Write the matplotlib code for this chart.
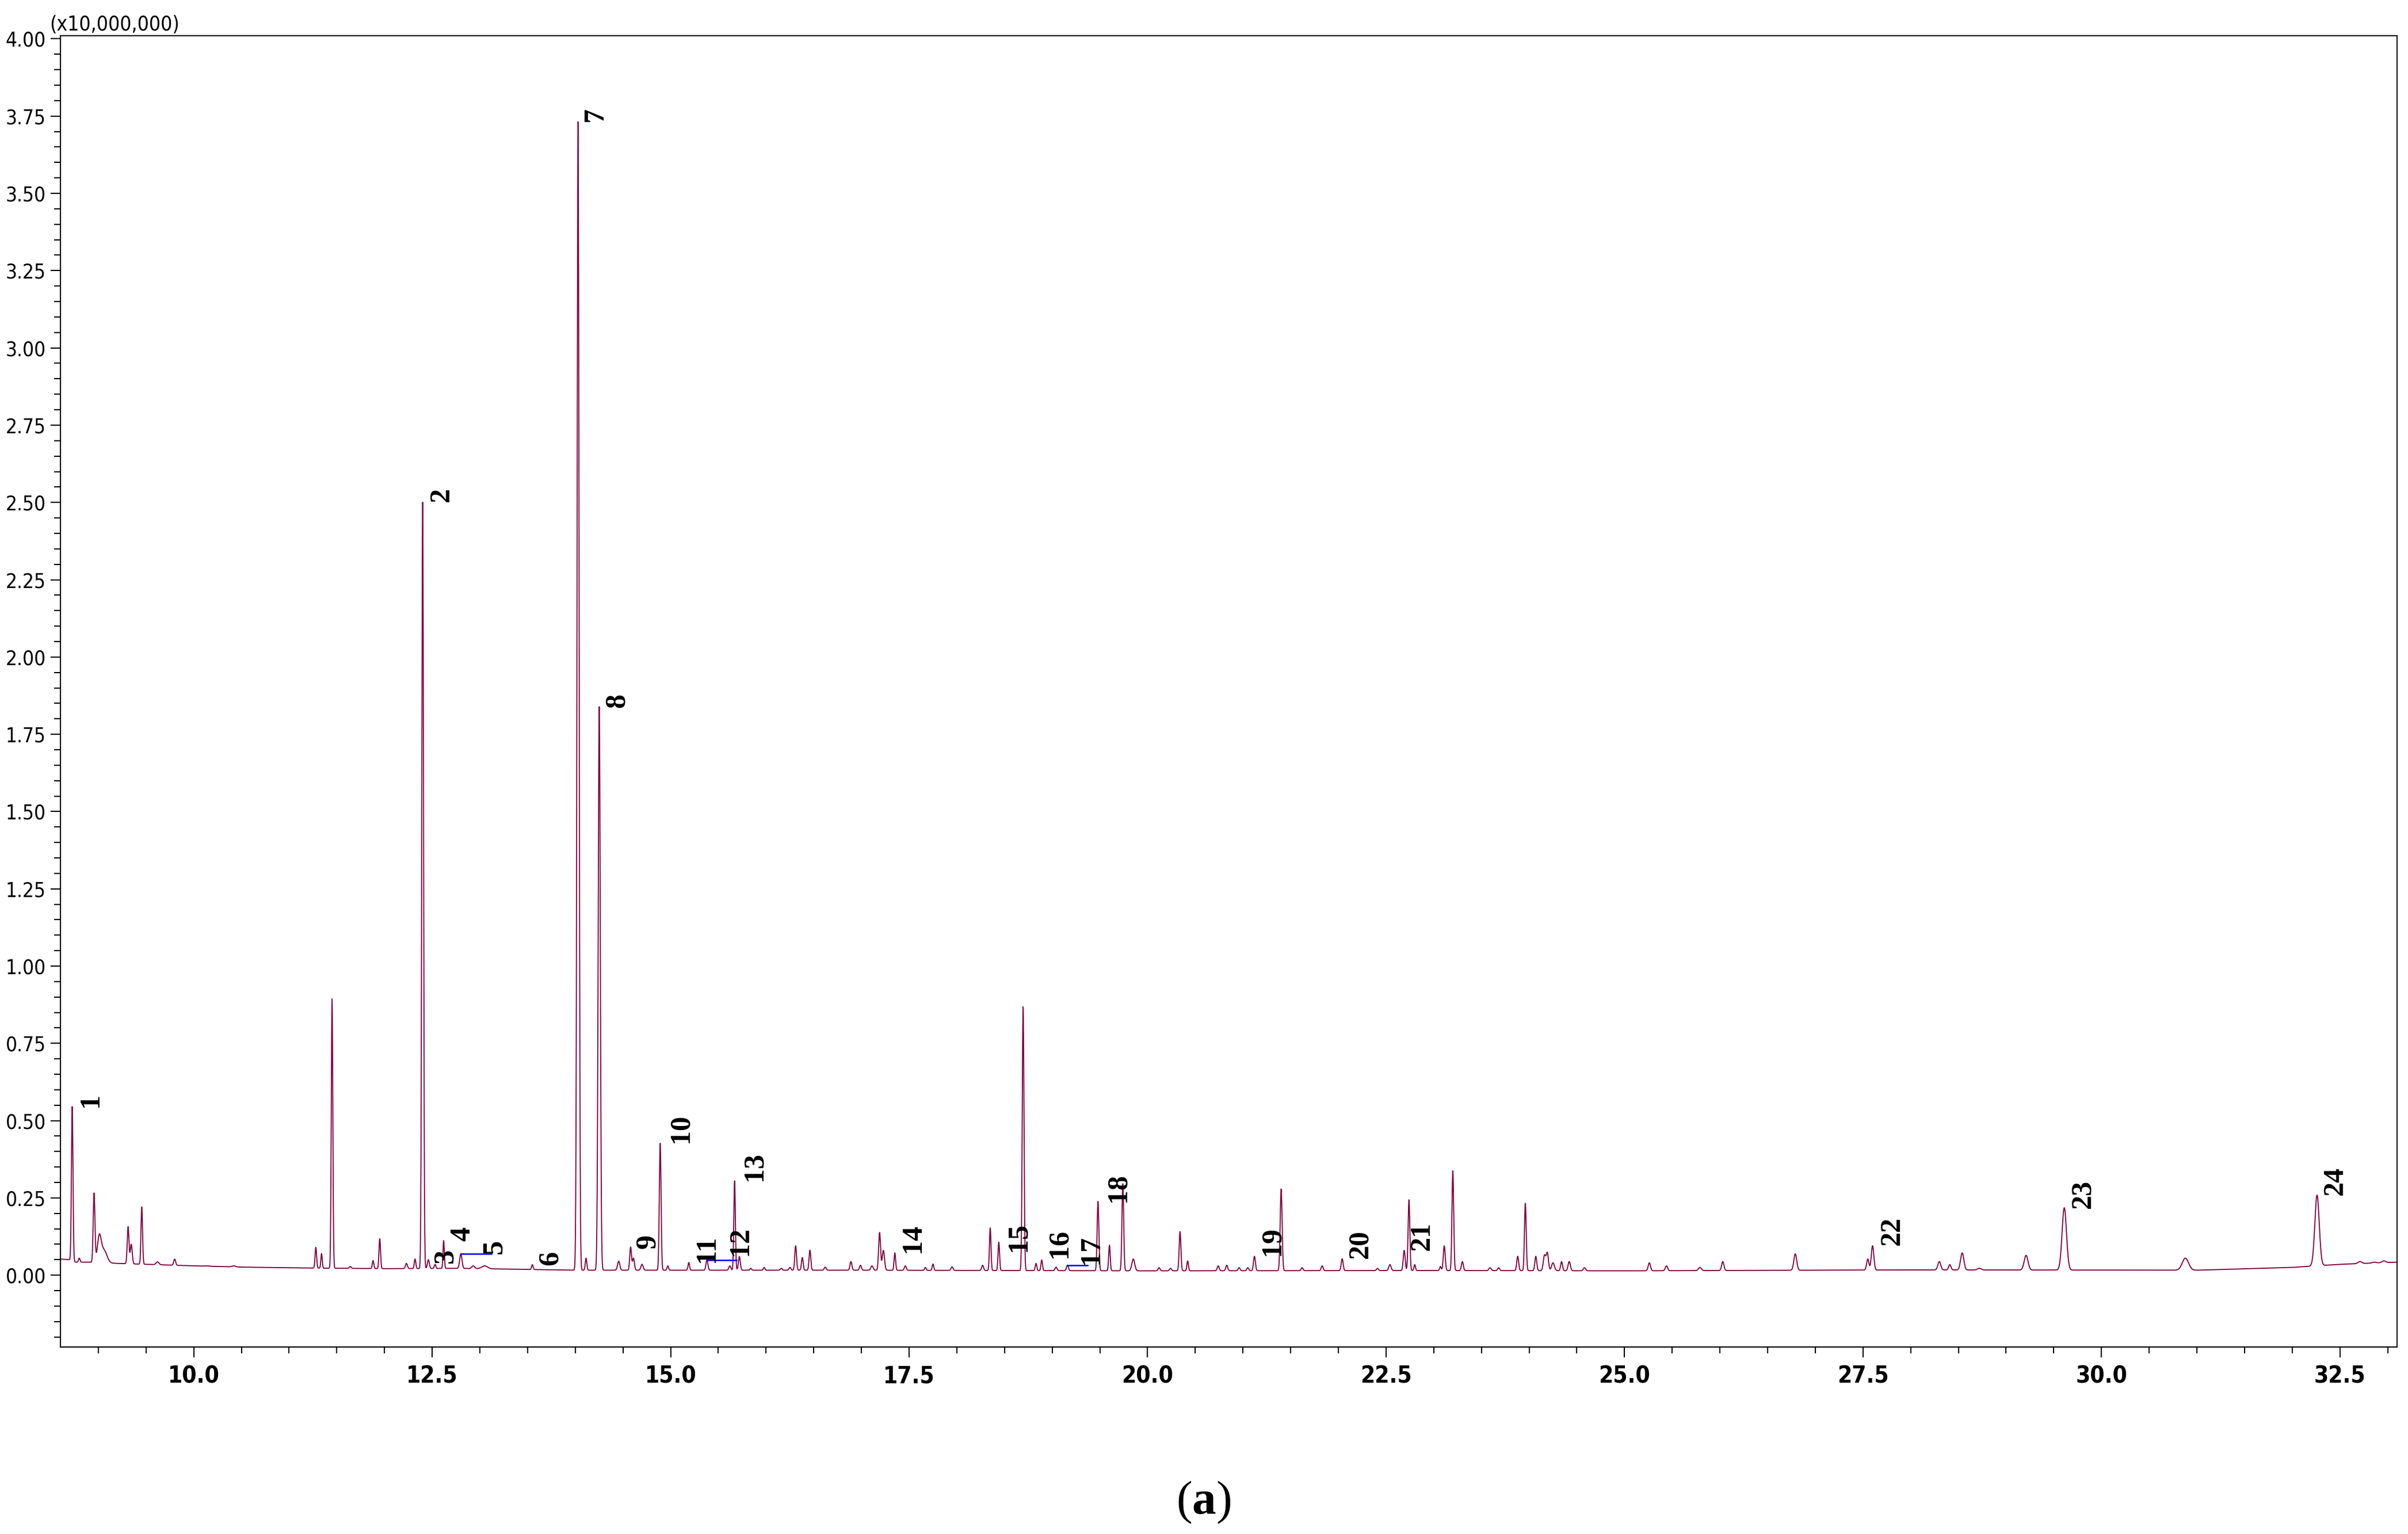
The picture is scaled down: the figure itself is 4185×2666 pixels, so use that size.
import numpy as np
import matplotlib
matplotlib.use('Agg')
import matplotlib.pyplot as plt
from matplotlib import font_manager

# Peak table: retention time (min), apex (x10,000,000), width (sigma, min)
peak_time = [8.726, 8.80, 8.955, 9.01, 9.06, 9.312, 9.345, 9.455, 9.62, 9.80,
             10.14, 10.42, 11.28, 11.34, 11.45, 11.64, 11.88, 11.95, 12.23, 12.32,
             12.40, 12.46, 12.53, 12.62, 12.80, 12.93, 13.05, 13.55, 14.029, 14.113,
             14.251, 14.455, 14.58, 14.61, 14.70, 14.89, 14.97, 15.19, 15.38, 15.62,
             15.67, 15.72, 15.84, 15.98, 16.16, 16.25, 16.31, 16.38, 16.46, 16.62,
             16.89, 16.99, 17.11, 17.19, 17.23, 17.35, 17.46, 17.67, 17.75, 17.95,
             18.27, 18.35, 18.44, 18.695, 18.83, 18.89, 19.04, 19.16, 19.48, 19.60,
             19.74, 19.85, 20.12, 20.24, 20.34, 20.42, 20.74, 20.83, 20.96, 21.05,
             21.12, 21.40, 21.62, 21.83, 22.04, 22.41, 22.54, 22.69, 22.74, 22.80,
             23.07, 23.11, 23.20, 23.30, 23.59, 23.68, 23.88, 23.96, 24.07, 24.16,
             24.19, 24.25, 24.34, 24.42, 24.58, 25.26, 25.44, 25.79, 26.03, 26.79,
             27.55, 27.60, 28.30, 28.41, 28.54, 28.72, 29.21, 29.61, 30.88, 32.26,
             32.71, 32.86, 32.96]
peak_apex = [0.546, 0.055, 0.264, 0.123, 0.080, 0.157, 0.100, 0.221, 0.043, 0.052,
             0.030, 0.030, 0.090, 0.070, 0.894, 0.028, 0.047, 0.118, 0.038, 0.052,
             2.509, 0.050, 0.035, 0.112, 0.069, 0.030, 0.030, 0.034, 3.734, 0.055,
             1.840, 0.045, 0.091, 0.055, 0.035, 0.428, 0.030, 0.041, 0.049, 0.030,
             0.305, 0.060, 0.022, 0.025, 0.022, 0.025, 0.095, 0.057, 0.081, 0.026,
             0.044, 0.032, 0.030, 0.138, 0.080, 0.072, 0.030, 0.025, 0.036, 0.027,
             0.032, 0.153, 0.107, 0.869, 0.038, 0.049, 0.026, 0.032, 0.239, 0.097,
             0.296, 0.052, 0.024, 0.022, 0.141, 0.046, 0.030, 0.032, 0.024, 0.024,
             0.061, 0.279, 0.024, 0.030, 0.053, 0.022, 0.034, 0.080, 0.244, 0.034,
             0.028, 0.095, 0.338, 0.044, 0.024, 0.024, 0.061, 0.233, 0.061, 0.063,
             0.072, 0.040, 0.044, 0.044, 0.024, 0.040, 0.030, 0.025, 0.044, 0.069,
             0.052, 0.095, 0.044, 0.034, 0.072, 0.022, 0.064, 0.218, 0.055, 0.259,
             0.044, 0.042, 0.046]
peak_sigma = [0.008, 0.008, 0.009, 0.020, 0.030, 0.009, 0.010, 0.008, 0.015, 0.010,
              0.020, 0.020, 0.008, 0.007, 0.008, 0.010, 0.008, 0.008, 0.010, 0.008,
              0.009, 0.010, 0.008, 0.007, 0.012, 0.015, 0.030, 0.008, 0.0105, 0.008,
              0.011, 0.012, 0.009, 0.010, 0.012, 0.009, 0.008, 0.008, 0.010, 0.010,
              0.008, 0.010, 0.008, 0.008, 0.010, 0.010, 0.009, 0.009, 0.009, 0.010,
              0.010, 0.010, 0.012, 0.010, 0.012, 0.008, 0.010, 0.008, 0.008, 0.010,
              0.010, 0.008, 0.008, 0.009, 0.008, 0.008, 0.010, 0.010, 0.009, 0.008,
              0.009, 0.015, 0.010, 0.010, 0.009, 0.008, 0.010, 0.010, 0.010, 0.010,
              0.010, 0.010, 0.010, 0.010, 0.010, 0.010, 0.012, 0.010, 0.009, 0.008,
              0.008, 0.010, 0.009, 0.010, 0.012, 0.010, 0.010, 0.009, 0.010, 0.012,
              0.012, 0.015, 0.010, 0.012, 0.012, 0.012, 0.012, 0.015, 0.012, 0.015,
              0.012, 0.013, 0.015, 0.012, 0.017, 0.020, 0.020, 0.023, 0.033, 0.023,
              0.020, 0.020, 0.020]

# baseline drift of the trace
base_time = [8.6, 8.70, 8.76, 8.9, 9.2, 9.5, 9.9, 10.5, 11.2, 12.0, 12.8, 13.2,
             14.0, 15.0, 17.0, 20.0, 23.0, 25.0, 28.0, 31.0, 32.0, 32.5, 33.1]
base_level = [0.052, 0.050, 0.042, 0.042, 0.038, 0.035, 0.031, 0.026, 0.023, 0.021,
              0.022, 0.020, 0.016, 0.016, 0.016, 0.014, 0.015, 0.014, 0.017, 0.016,
              0.025, 0.035, 0.042]

# numbered peak annotations (label, time, height of label centre)
label_text = ['1', '2', '3', '4', '5', '6', '7', '8', '9', '10', '11', '12',
              '13', '14', '15', '16', '17', '18', '19', '20', '21', '22', '23', '24']
label_time = [8.92, 12.60, 12.64, 12.82, 13.15, 13.74, 14.21, 14.44, 14.76, 15.11,
              15.38, 15.73, 15.88, 17.54, 18.65, 19.08, 19.41, 19.69, 21.31, 22.23,
              22.88, 27.81, 29.81, 32.45]
label_y = [0.567, 2.525, 0.062, 0.133, 0.093, 0.056, 3.754, 1.859, 0.110, 0.474,
           0.086, 0.110, 0.352, 0.120, 0.124, 0.103, 0.083, 0.284, 0.111, 0.100,
           0.126, 0.143, 0.262, 0.305]

# blue integration marks (start, end, level)
mark_start = [12.80, 15.39, 19.16]
mark_end = [13.12, 15.69, 19.37]
mark_level = [0.070, 0.049, 0.032]

# build the trace
t = np.linspace(8.6, 33.1, 16000)
signal = np.interp(t, base_time, base_level)
for pt, pa, ps in zip(peak_time, peak_apex, peak_sigma):
    amp = pa - np.interp(pt, base_time, base_level)
    signal = signal + amp * np.exp(-0.5 * ((t - pt) / ps) ** 2)

names = {f.name for f in font_manager.fontManager.ttflist}
tick_font = 'Liberation Sans Narrow' if 'Liberation Sans Narrow' in names else 'DejaVu Sans'
tick_stretch = 'normal' if tick_font == 'Liberation Sans Narrow' else 'condensed'

plt.rcParams['mathtext.fontset'] = 'custom'
plt.rcParams['mathtext.rm'] = 'Liberation Serif'
plt.rcParams['mathtext.bf'] = 'Liberation Serif:bold'

fig = plt.figure(figsize=(13.95, 8.8867), dpi=300)
ax = fig.add_axes([0.025, 0.122, 0.9705, 0.8547])

ax.plot(t, signal, color='#800040', lw=0.45)
for s, e, lv in zip(mark_start, mark_end, mark_level):
    ax.plot([s, e], [lv, lv], color='#0000ff', lw=0.6)

for txt, lt, ly in zip(label_text, label_time, label_y):
    ax.text(lt, ly, txt, rotation=90, ha='center', va='center',
            family='Liberation Serif', fontweight='bold', fontsize=12)

ax.set_xlim(8.6, 33.1)
ax.set_ylim(-0.232, 4.01)
ax.set_xticks(np.arange(10.0, 33.0, 2.5))
ax.set_xticks(np.arange(9.0, 33.1, 0.5), minor=True)
ax.set_yticks(np.arange(0.0, 4.01, 0.25))
ax.set_yticks(np.arange(-0.20, 4.01, 0.05), minor=True)
ax.set_xticklabels([f'{v:.1f}' for v in np.arange(10.0, 33.0, 2.5)])
ax.set_yticklabels([f'{v:.2f}' for v in np.arange(0.0, 4.01, 0.25)])

ax.tick_params(axis='both', which='major', direction='out', length=4.2, width=0.5)
ax.tick_params(axis='both', which='minor', direction='out', length=2.7, width=0.5)
ax.tick_params(axis='x', pad=3.4)
ax.tick_params(axis='y', pad=1.7)
for lab in ax.get_xticklabels():
    lab.set_family(tick_font)
    lab.set_stretch(tick_stretch)
    lab.set_fontweight('bold')
    lab.set_fontsize(9.7)
for lab in ax.get_yticklabels():
    lab.set_family(tick_font)
    lab.set_stretch(tick_stretch)
    lab.set_fontsize(8.4)
for sp in ax.spines.values():
    sp.set_linewidth(0.5)

fig.text(0.0207, 0.9775, '(x10,000,000)', ha='left', va='bottom',
         family=tick_font, stretch=tick_stretch, fontsize=8.5)
fig.text(0.4999, 0.021, r'$\mathrm{(}\mathbf{a}\mathrm{)}$', ha='center', va='center',
         fontsize=20)

fig.savefig('out.png', dpi=300)
